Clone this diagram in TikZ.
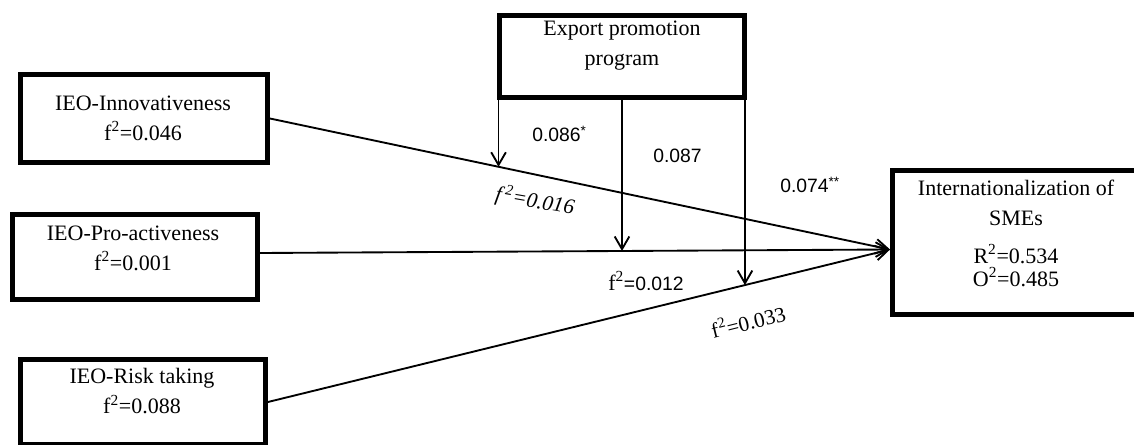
\documentclass[tikz,border=0pt]{standalone}
\usepackage{fontspec}
\setmainfont{Liberation Serif}
\newfontfamily\numfont{Liberation Sans}
\usetikzlibrary{arrows.meta,calc,intersections}
\begin{document}
\begin{tikzpicture}[x=0.75pt,y=-0.75pt,
  box/.style={draw=black, line width=3.7pt, fill=white, inner sep=0pt},
  lbl/.style={align=center, font=\fontsize{16.5}{22.5}\selectfont, inner sep=0pt},
  num/.style={font=\numfont\fontsize{14.5}{17}\selectfont, inner sep=0pt},
  eff/.style={font=\fontsize{16}{19}\selectfont\itshape, inner sep=0pt},
  effup/.style={font=\fontsize{16}{19}\selectfont, inner sep=0pt},
  conn/.style={line width=1.4pt, -{Straight Barb[length=9.5pt,width=11pt]}},
]
\useasboundingbox (0,0) rectangle (1134,445);
\clip (0,0) rectangle (1134,445);

% boxes
\node[box, minimum width=185.25pt, minimum height=66pt] (inn) at (144,118.5) {};
\node[box, minimum width=183.75pt, minimum height=61.5pt] (exp) at (622,56.5) {};
\node[box, minimum width=183.75pt, minimum height=63.75pt] (pro) at (135,257) {};
\node[box, minimum width=183.75pt, minimum height=63.75pt] (risk) at (143,402) {};
\node[box, minimum width=185.25pt, minimum height=108pt] (tgt) at (1016,242.5) {};

% box texts
\node[lbl] (innT) at (143,118) {IEO-Innovativeness\\f\textsuperscript{2}=0.046};
\node[lbl] (expT) at (622,46) {Export promotion\\program};
\node[lbl] (proT) at (133,248) {IEO-Pro-activeness\\f\textsuperscript{2}=0.001};
\node[lbl] (riskT) at (142,391) {IEO-Risk taking\\f\textsuperscript{2}=0.088};
\node[lbl] (tgtT) at (1016,233) {Internationalization of\\SMEs\\[6pt]R\textsuperscript{2}=0.534\\[-5.25pt]O\textsuperscript{2}=0.485};

% target point
\coordinate (T) at ($(tgt.west)+(0,7)$);

% main paths
\draw[conn, name path=l1] (inn.east) -- (T);
\draw[conn, name path=l2] ($(pro.east)+(0,-4)$) -- (T);
\draw[conn, name path=l3] (risk.east) -- (T);

% moderating arrows
\coordinate (m1) at ($(exp.south west)+(1.5,0)$);
\coordinate (m2) at (exp.south);
\coordinate (m3) at ($(exp.south east)+(-2,0)$);
\path[name path=v1] (m1) -- ++(0,400);
\path[name path=v2] (m2) -- ++(0,400);
\path[name path=v3] (m3) -- ++(0,400);
\path[name intersections={of=v1 and l1, by=i1}];
\path[name intersections={of=v2 and l2, by=i2}];
\path[name intersections={of=v3 and l3, by=i3}];
\draw[conn] (m1) -- (i1);
\draw[conn] (m2) -- (i2);
\draw[conn] (m3) -- (i3);

% labels
\node[num, anchor=base west] (b1) at (532,142) {0.086\textsuperscript{*}};
\node[num, anchor=base west] (b2) at (653,163) {0.087};
\node[num, anchor=base west] (b3) at (780,193) {0.074\textsuperscript{**}};
\node[eff, rotate=-10] (e1) at (535,201) {f\/\kern0.5pt\textsuperscript{2}=0.016};
\node[num, anchor=base west] (e2) at (608,290) {{\rmfamily\fontsize{16.5}{19}\selectfont f\textsuperscript{2}}=0.012};
\node[effup, rotate=14] (e3) at (748,321) {f\kern0.5pt\textsuperscript{2}=0.033};
\end{tikzpicture}
\end{document}
